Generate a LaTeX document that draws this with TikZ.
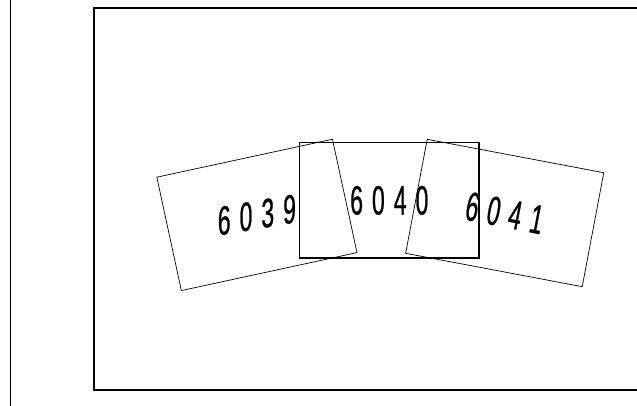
\documentclass[tikz,border=0pt]{standalone}
\usepackage{fontspec}
\newfontfamily\digitfont[FakeStretch=0.56,FakeBold=0.6,LetterSpace=22]{Liberation Sans}

\begin{document}
\begin{tikzpicture}[x=1pt,y=-1pt,
    card/.style={draw,line width=0.7pt,minimum width=179.7pt,minimum height=116pt,
      inner sep=0pt,outer sep=0pt},
    num/.style={font=\digitfont\fontsize{41}{41}\selectfont,inner sep=0pt}]
            \useasboundingbox (0,0) rectangle (637,406);
            \clip (0,0) rectangle (637,406);
            \draw[line width=1pt] (10,-5) -- (10,411);
            \draw[line width=1.2pt] (660,8) -- (94,8) -- (94,390) -- (660,390);
            \node[card,rotate=12.2] (L) at (256.9,214.9) {};
            \node[card,rotate=-10.7] (R) at (504.7,213) {};
            \node[card,line width=1.6pt,minimum width=179.5pt,minimum height=115.5pt]
                (M) at (389.3,200.4) {};
            \node[num,yslant=0.17] at (L) {6039};
            \node[num] at (M) {6040};
            \node[num,rotate=-11] at (R) {6041};
        \end{tikzpicture}
\end{document}
